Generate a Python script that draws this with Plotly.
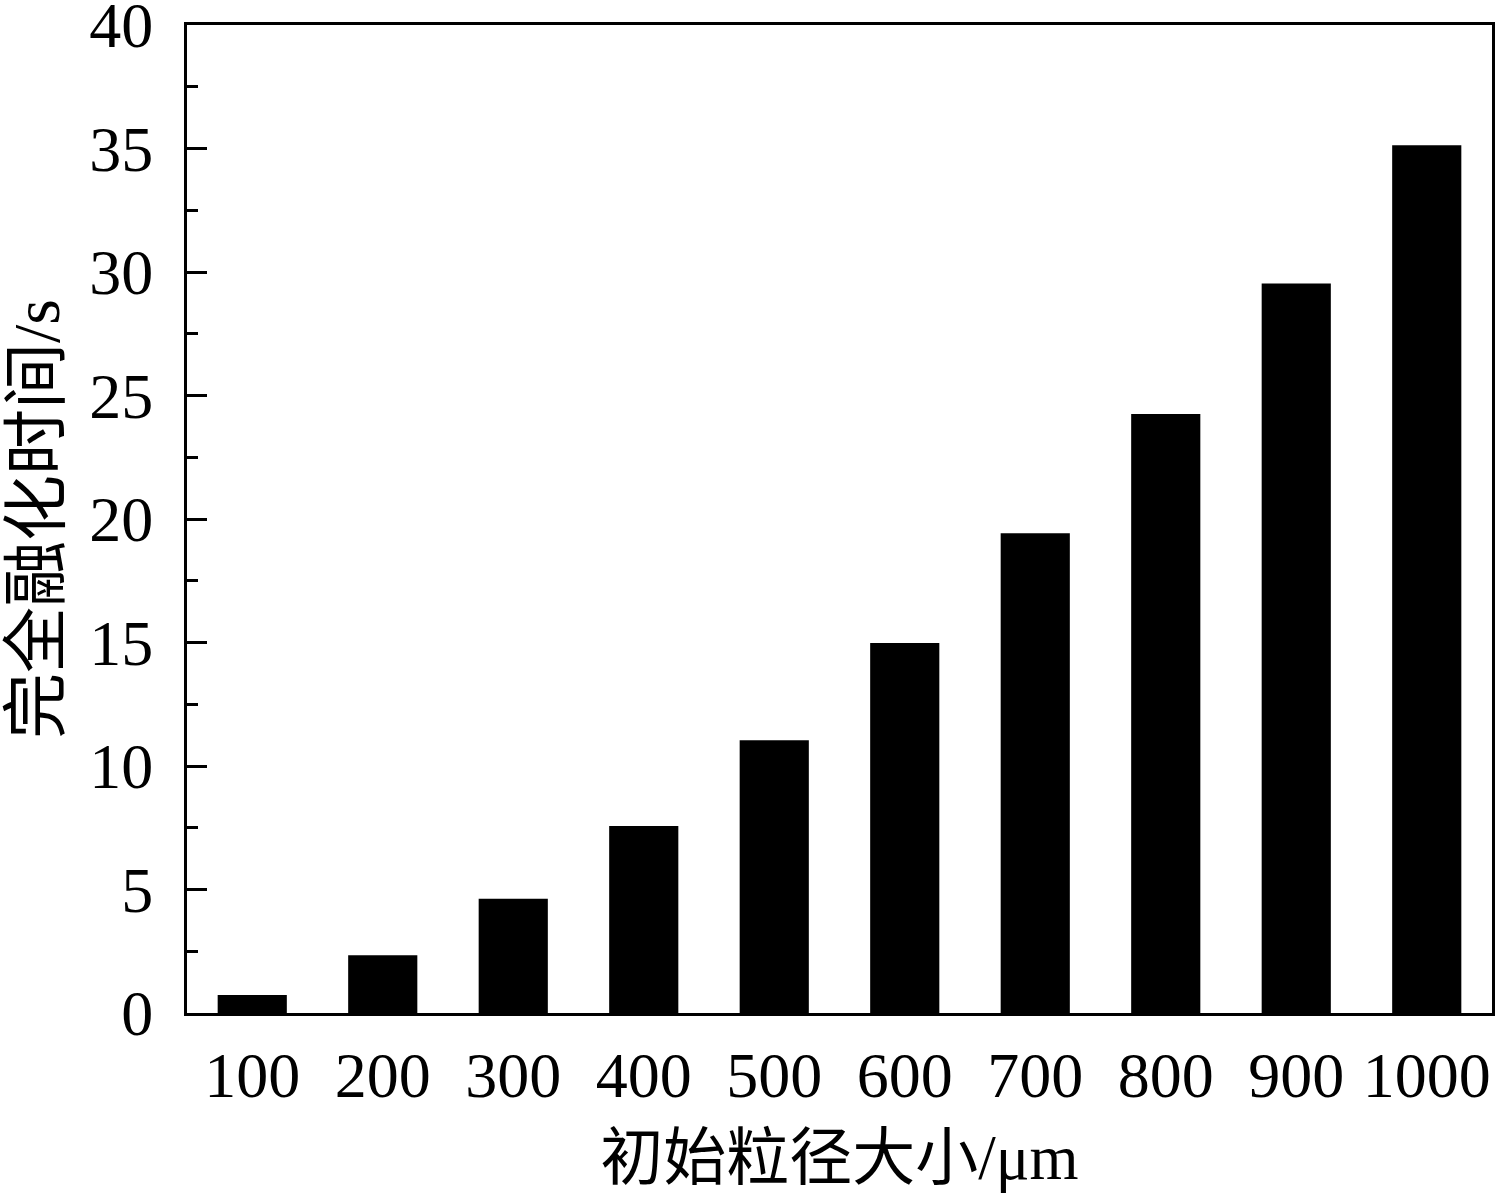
import plotly.graph_objects as go

# 初始粒径 (μm) vs 完全融化时间 (s)
sizes = ['100', '200', '300', '400', '500', '600', '700', '800', '900', '1000']
melt_time = [0.73, 2.34, 4.63, 7.57, 11.04, 14.98, 19.42, 24.25, 29.53, 35.13]

font_fam = 'Liberation Serif, Times New Roman, Noto Sans CJK SC, serif'
latin = '<span style="font-family:Liberation Serif">%s</span>'

fig = go.Figure()
fig.add_trace(
    go.Bar(x=sizes, y=melt_time, marker_color='black', marker_line_width=0)
)
fig.update_layout(
    width=1495, height=1194,
    margin=dict(l=187, r=3, t=25, b=181),
    plot_bgcolor='white', paper_bgcolor='white',
    bargap=0.47,
    showlegend=False,
    font=dict(family=font_fam, color='black', size=64),
)
fig.update_xaxes(
    type='category', automargin=False,
    showline=True, mirror=True, linecolor='black', linewidth=3,
    ticks='', showgrid=False,
    tickfont=dict(size=64, family=font_fam),
    ticklabelstandoff=4,
    title=dict(text='初始粒径大小' + latin % '/μm', font=dict(size=63, family=font_fam), standoff=26),
)
fig.update_yaxes(
    range=[0, 40], dtick=5, automargin=False,
    showline=True, mirror=True, linecolor='black', linewidth=3,
    ticks='inside', ticklen=20, tickwidth=3, tickcolor='black',
    minor=dict(ticks='inside', ticklen=11, tickwidth=3, tickcolor='black', dtick=2.5),
    showgrid=False, zeroline=False,
    ticklabeloverflow='allow',
    ticklabelstandoff=18,
    tickfont=dict(size=64, family=font_fam),
    title=dict(text='完全融化时间' + latin % '/s', font=dict(size=66, family=font_fam), standoff=20),
)
fig.write_html(
    'out.html',
    config={'displayModeBar': False},
    post_script="document.body.style.margin='0';document.body.style.overflow='hidden';",
)
